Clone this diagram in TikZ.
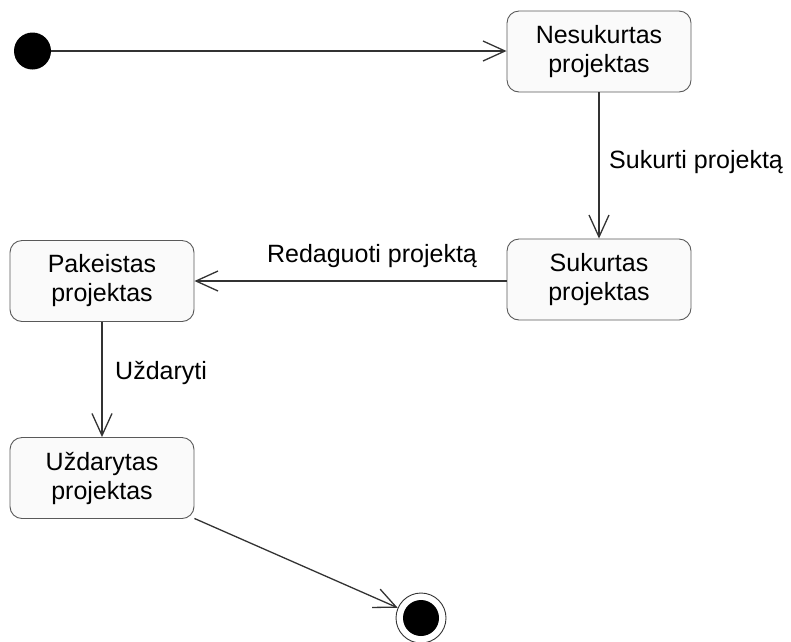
\documentclass[tikz,border=0pt]{standalone}
\usepackage{fontspec}
\setmainfont{Liberation Sans}
\usetikzlibrary{arrows.meta}
\tikzset{
  statebox/.style={draw=black!65, line width=0.9pt, fill=black!2, rounded corners=12pt,
    minimum width=184pt, minimum height=81pt, align=center, inner sep=0pt,
    font=\fontsize{25}{29}\selectfont},
  trans/.style={draw=black!80, line width=1.3pt,
    -{Straight Barb[length=22pt,width=20pt,line width=1.3pt]}},
  lbl/.style={font=\fontsize{25}{29}\selectfont, inner sep=0pt}
}
\begin{document}
\begin{tikzpicture}[x=1pt,y=-1pt]
  \useasboundingbox (0,0) rectangle (791,641);
  % states
  \node[circle, fill=black, minimum size=37pt, inner sep=0pt] (init) at (32.5,51) {};
  \node[statebox] (nes) at (599,51.5) {Nesukurtas\\projektas};
  \node[statebox] (suk) at (599,279.5) {Sukurtas\\projektas};
  \node[statebox] (pak) at (102,281) {Pakeistas\\projektas};
  \node[statebox] (uzd) at (102,478) {Uždarytas\\projektas};
  \node[circle, draw=black!80, line width=0.9pt, minimum size=50pt, inner sep=0pt] (fin) at (421,618) {};
  \node[circle, fill=black, minimum size=36pt, inner sep=0pt] (finin) at (fin) {};
  % transitions
  \draw[trans] (init) -- (nes.west |- init);
  \draw[trans] (nes) -- (suk);
  \draw[trans] (suk.west |- 0,281) -- (pak.east |- 0,281);
  \draw[trans] (pak) -- (uzd);
  \draw[trans] (uzd) -- (fin);
  % labels
  \node[lbl, anchor=base west] (l1) at (609,168) {Sukurti projektą};
  \node[lbl, anchor=base] (l2) at (372,262) {Redaguoti projektą};
  \node[lbl, anchor=base west] (l3) at (115,379) {Uždaryti};
\end{tikzpicture}
\end{document}
